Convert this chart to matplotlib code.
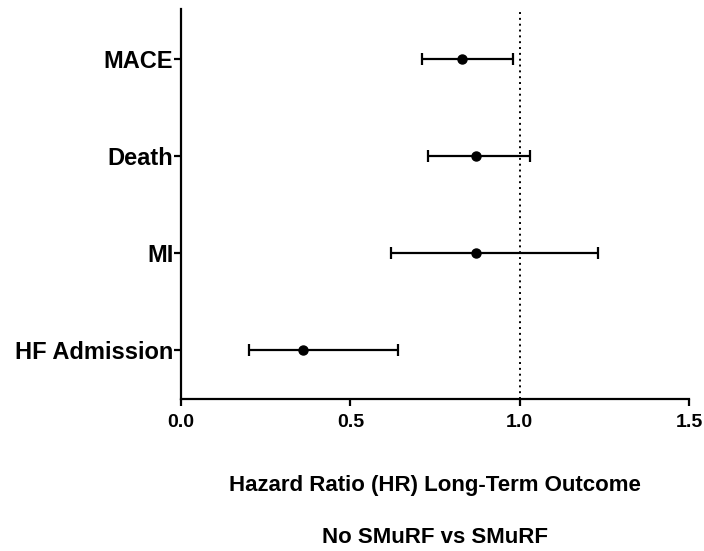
#!/usr/bin/env python3
"""Forest plot: hazard ratios, No SMuRF vs SMuRF."""
import matplotlib
matplotlib.use('Agg')
import matplotlib.pyplot as plt

# Data (top to bottom)
outcomes = ['MACE', 'Death', 'MI', 'HF Admission']
hr = [0.83, 0.87, 0.87, 0.36]
ci_low = [0.71, 0.73, 0.62, 0.20]
ci_high = [0.98, 1.03, 1.23, 0.64]
x_ticks = [0.0, 0.5, 1.0, 1.5]

plt.rcParams['font.family'] = ['Liberation Sans', 'DejaVu Sans']
plt.rcParams['font.weight'] = 'bold'

fig = plt.figure(figsize=(7.04, 5.51), dpi=100, facecolor='white')
ax = fig.add_axes([0.257, 0.276, 0.722, 0.708])

ypos = list(range(len(outcomes), 0, -1))
xerr = [[h - lo for h, lo in zip(hr, ci_low)],
        [hi - h for h, hi in zip(hr, ci_high)]]

ax.errorbar(hr, ypos, xerr=xerr, fmt='o', color='black', ecolor='black',
            markersize=6.5, elinewidth=1.6, capsize=4.5, capthick=1.6)

# reference line at HR = 1
ax.axvline(1.0, color='black', linestyle=(0, (1, 2.0)), linewidth=1.4)

ax.set_xlim(0, 1.5)
ax.set_ylim(0.49, 4.52)
ax.set_xticks(x_ticks)
ax.set_xticklabels([f'{t:.1f}' for t in x_ticks], fontsize=14, fontweight='bold')
ax.set_yticks(ypos)
ax.set_yticklabels(outcomes, fontsize=17, fontweight='bold')

for side in ['top', 'right']:
    ax.spines[side].set_visible(False)
for side in ['left', 'bottom']:
    ax.spines[side].set_linewidth(1.6)
ax.tick_params(direction='out', length=5, width=1.6, colors='black')
ax.tick_params(axis='x', pad=6)
ax.tick_params(axis='y', pad=0.5)

# axis title in two lines below the plot
cx = 0.257 + 0.722 / 2
fig.text(cx, 0.109, 'Hazard Ratio (HR) Long-Term Outcome', ha='center',
         va='baseline', fontsize=16, fontweight='bold')
fig.text(cx, 0.014, 'No SMuRF vs SMuRF', ha='center', va='baseline',
         fontsize=16, fontweight='bold')

plt.savefig('out.png', dpi=100, facecolor='white')
plt.close()
